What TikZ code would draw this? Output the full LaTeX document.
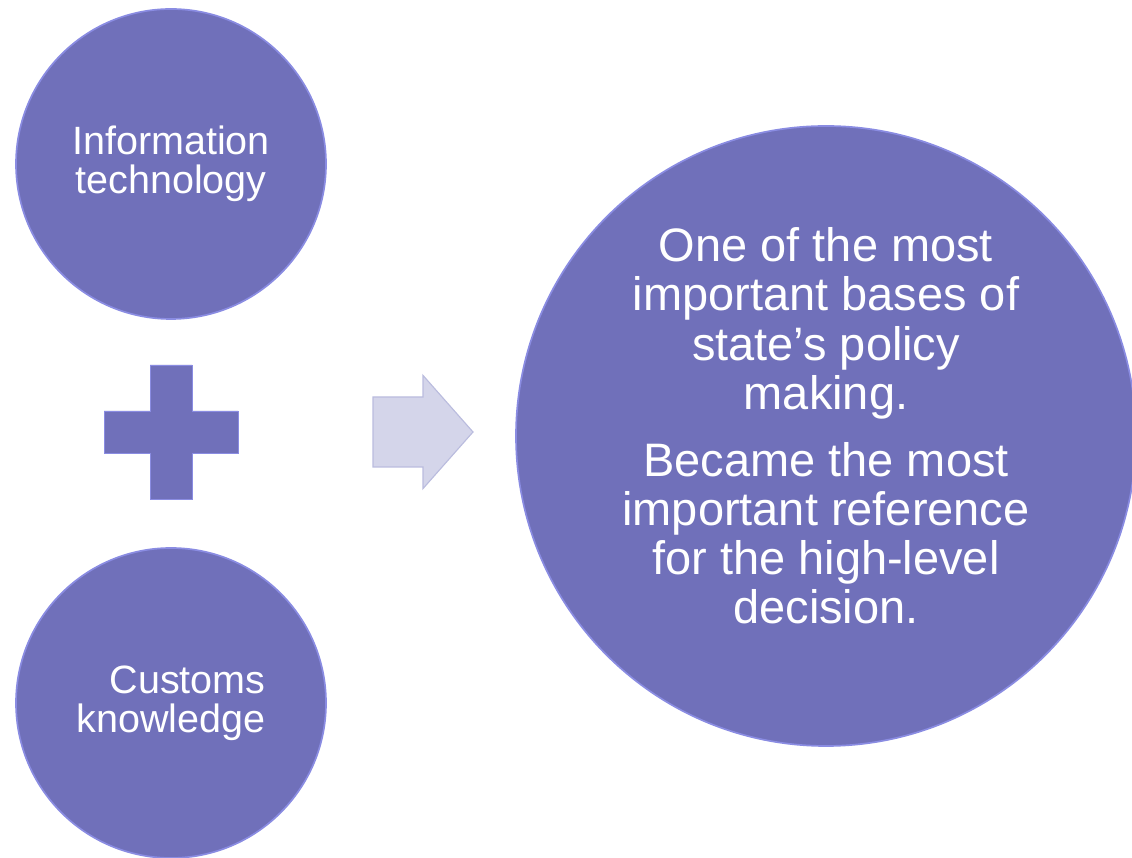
\documentclass[tikz,border=0pt]{standalone}
\usepackage{fontspec}
\setmainfont{Liberation Sans}
\usetikzlibrary{calc}
\definecolor{discfill}{RGB}{112,112,186}
\definecolor{discrim}{RGB}{138,140,226}
\definecolor{arrowfill}{RGB}{212,213,234}
\definecolor{arrowrim}{RGB}{186,188,222}

\begin{document}
\begin{tikzpicture}[
    disc/.style={circle, fill=discfill, draw=discrim, line width=1.2pt, text=white, inner sep=0pt},
    smalltext/.style={font=\fontsize{28.1}{27.7}\selectfont},
    bigtext/.style={font=\fontsize{33.4}{34.9}\selectfont}]
                % Page size
                \useasboundingbox (0,0) rectangle (28.3,21.425);

                % The two inputs
                \node[disc, smalltext, align=center, minimum size=7.75cm] (infotech) at (4.275,17.325) {Information\\technology};
                \node[disc, smalltext, align=right, minimum size=7.75cm] (customs) at (4.275,3.85) {Customs\\knowledge};

                % Plus sign between them
                \coordinate (plus) at (4.275,10.625);
                \filldraw[fill=discfill, draw=discrim, line width=0.6pt] (plus) ++(-0.525,1.675)
                    -- ++(1.05,0) -- ++(0,-1.15) -- ++(1.15,0) -- ++(0,-1.05) -- ++(-1.15,0)
                    -- ++(0,-1.15) -- ++(-1.05,0) -- ++(0,1.15) -- ++(-1.15,0) -- ++(0,1.05)
                    -- ++(1.15,0) -- cycle;

                % Block arrow
                \coordinate (arrowtail) at (9.325,10.625);
                \filldraw[fill=arrowfill, draw=arrowrim, line width=0.8pt] (arrowtail) ++(0,0.875)
                    -- ++(1.25,0) -- ++(0,0.54) -- ++(1.25,-1.415) -- ++(-1.25,-1.415)
                    -- ++(0,0.54) -- ++(-1.25,0) -- cycle;

                % The result
                \node[disc, minimum size=15.5cm] (result) at (20.65,10.525) {};
                \node[bigtext, text=white, align=center] (resulttext) at ($(result.center)+(0,0.25)$)
                    {One of the most\\important bases of\\state’s policy\\making.\\[13pt]Became the most\\important reference\\for the high-level\\decision.};
            \end{tikzpicture}
\end{document}
